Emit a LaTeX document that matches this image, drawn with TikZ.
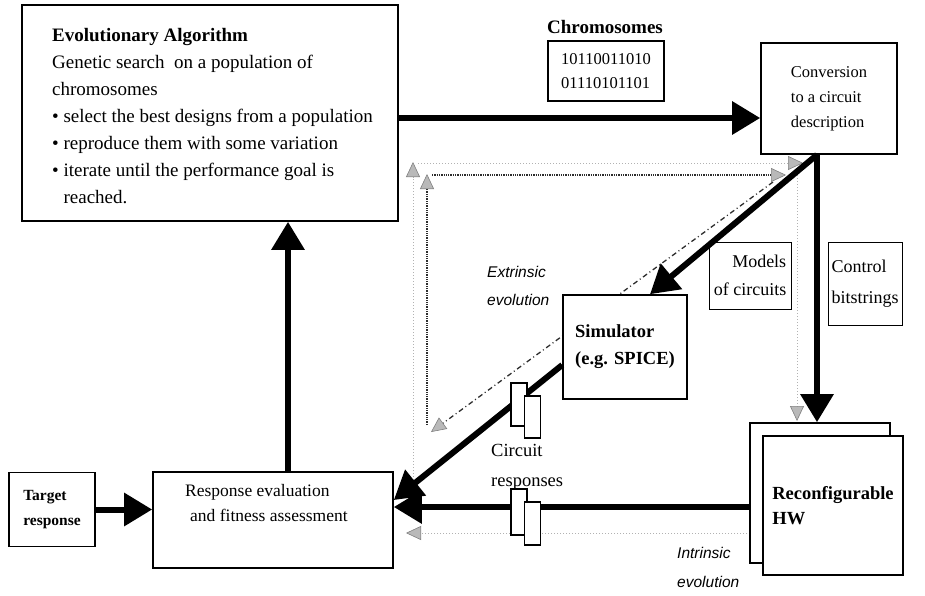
\documentclass[tikz,border=0pt]{standalone}
\usepackage{fontspec}
\setmainfont{Liberation Serif}
\newfontfamily\arialfont{Liberation Sans}
\usetikzlibrary{arrows.meta,calc}

\tikzset{
  box/.style={draw, line width=1.6pt, fill=white, inner sep=2pt},
  thin box/.style={draw, line width=1pt, fill=white, inner sep=2pt},
  flow/.style={line width=6pt, -{Triangle[length=28pt,width=32pt]}},
  hatch/.style={-{Triangle[length=15pt,width=14pt,fill=gray!55,color=gray,line width=0.6pt]}},
  intr/.style={gray!60, line width=1pt, dotted, hatch},
  extr/.style={gray!35!black, line width=1.3pt, densely dotted, hatch},
  gate/.style={draw, line width=1.2pt, fill=white, minimum width=16pt, inner sep=0pt},
  txt/.style={font=\fontsize{19}{27}\selectfont, align=left, inner sep=0pt},
}

\begin{document}
\begin{tikzpicture}[x=1pt,y=-1pt]
  \useasboundingbox (0,0) rectangle (925,595);

  % evolution loops (drawn first, under the boxes)
  \coordinate (exA) at (773,182);
  \coordinate (exB) at (431,432);
  \coordinate (exC) at (427,425);
  \coordinate (exD) at (427,174);
  \coordinate (exE) at (432,175);
  \coordinate (exF) at (786,175);
  \draw[extr, dash pattern=on 5pt off 3pt on 1pt off 3pt] (exA) -- (exB);
  \draw[extr] (exC) -- (exD);
  \draw[extr] (exE) -- (exF);

  \coordinate (inA) at (797,172);
  \coordinate (inB) at (797,421);
  \coordinate (inC) at (750,533);
  \coordinate (inD) at (406,533);
  \coordinate (inE) at (413,480);
  \coordinate (inF) at (413,162);
  \coordinate (inG) at (418,163);
  \coordinate (inH) at (803,163);
  \draw[intr] (inA) -- (inB);
  \draw[intr] (inC) -- (inD);
  \draw[intr] (inE) -- (inF);
  \draw[intr] (inG) -- (inH);

  % boxes
  \node[box, minimum width=376pt, minimum height=216pt] (ea) at (210,113) {};
  \node[txt, anchor=north west] (eatext) at (52,28)
    {\textbf{Evolutionary Algorithm}\\Genetic search\ \ on a population of\\chromosomes\\%
     • select the best designs from a population\\• reproduce them with some variation\\%
     • iterate until the performance goal is\\\phantom{• }reached.};

  \node[box, minimum width=240pt, minimum height=96pt] (resp) at (273,520) {};
  \node[txt, font=\fontsize{17.5}{25}\selectfont, anchor=north west] (resptext) at (185,484)
    {Response evaluation\\\hspace*{5pt}and fitness assessment};

  \node[box, minimum width=86pt, minimum height=74pt, align=left,
        font=\fontsize{15.5}{25}\selectfont\bfseries] (target) at (52,509.5) {Target\\response};

  \node[font=\fontsize{19}{20}\selectfont\bfseries] (chromlbl) at (605,27) {Chromosomes};
  \node[box, line width=1.2pt, minimum width=116pt, minimum height=60pt, align=left,
        font=\fontsize{16.5}{24}\selectfont] (chrom) at (606,71) {10110011010\\01110101101};

  \node[box, minimum width=136pt, minimum height=111pt, align=left,
        font=\fontsize{16.5}{25}\selectfont] (conv) at (829,98.5) {Conversion\\to a circuit\\description};

  \node[box, minimum width=124pt, minimum height=104pt, align=left,
        font=\fontsize{18.5}{27}\selectfont\bfseries] (sim) at (625,347) {Simulator\\(e.g. SPICE)};

  \node[thin box, minimum width=82pt, minimum height=67pt, align=right,
        font=\fontsize{18}{28}\selectfont] (models) at (750,275.5) {Models\\of circuits};
  \node[thin box, minimum width=74pt, minimum height=83pt, align=left,
        font=\fontsize{18}{31}\selectfont] (ctrl) at (865,283.5) {Control\\bitstrings};

  \node[box, minimum width=140pt, minimum height=140pt] (hwb) at (820,493) {};
  \node[box, minimum width=140pt, minimum height=139pt, align=left,
        font=\fontsize{18.5}{25}\selectfont\bfseries] (hw) at (833,505.5) {Reconfigurable\\HW};

  % labels
  \node[txt, font=\fontsize{18.5}{30}\selectfont, anchor=west] (resplbl) at (491,467) {Circuit\\responses};
  \node[txt, font=\arialfont\itshape\fontsize{15.5}{28}\selectfont, anchor=west] (extlbl) at (487,286) {Extrinsic\\evolution};
  \node[txt, font=\arialfont\itshape\fontsize{15.5}{29}\selectfont, anchor=west] (intlbl) at (677,567.5) {Intrinsic\\evolution};

  % main flow
  \coordinate (cv) at ([xshift=-12pt]conv.south);
  \coordinate (rin) at ([yshift=13pt]resp.east);
  \coordinate (rup) at ([xshift=15pt]resp.north);
  \draw[flow] ([yshift=-5pt]ea.east) -- ([yshift=-5pt]ea.east -| conv.west);
  \draw[flow] (cv) -- (cv |- hwb.north);
  \draw[flow] (cv) -- ([xshift=25pt]sim.north);
  \draw[flow] ([yshift=-18pt]sim.west) -- ([yshift=20pt]resp.east);
  \draw[flow] (rin -| hwb.west) -- (rin);
  \draw[flow] (target.east) -- (target.east -| resp.west);
  \draw[flow] (rup) -- (rup |- ea.south);

  % response taps
  \node[gate, minimum height=43pt] (g1) at (519,404.5) {};
  \node[gate, minimum height=42pt] (g2) at (532.5,417) {};
  \node[gate, minimum height=46pt] (g3) at (519,512) {};
  \node[gate, minimum height=43pt] (g4) at (532.5,523.5) {};
\end{tikzpicture}
\end{document}
